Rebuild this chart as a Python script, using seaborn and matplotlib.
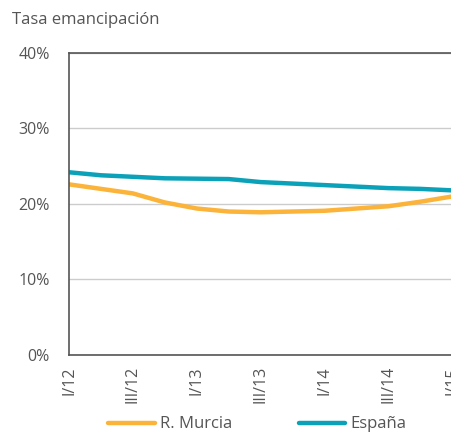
import numpy as np
import pandas as pd
import matplotlib
matplotlib.use("Agg")
import matplotlib.pyplot as plt
import seaborn as sns

sns.set_style("white")
plt.rcParams['font.family'] = ['Open Sans', 'DejaVu Sans']

trimestres = ['I/12', 'II/12', 'III/12', 'IV/12', 'I/13', 'II/13', 'III/13',
              'IV/13', 'I/14', 'II/14', 'III/14', 'IV/14', 'I/15']
murcia = [22.6, 22.0, 21.4, 20.2, 19.4, 19.0, 18.9, 19.0, 19.1, 19.4, 19.7, 20.3, 21.0]
espana = [24.2, 23.8, 23.6, 23.4, 23.35, 23.3, 22.9, 22.7, 22.5, 22.3, 22.1, 22.0, 21.8]

df = pd.DataFrame({'idx': np.arange(len(trimestres)), 'R. Murcia': murcia, 'España': espana})
df_long = df.melt(id_vars='idx', var_name='serie', value_name='tasa')

col_gris = '#555555'
fig = plt.figure(figsize=(4.51, 4.34), dpi=100)
ax = fig.add_axes([0.153, 0.182, 0.85, 0.696])

sns.lineplot(data=df_long, x='idx', y='tasa', hue='serie',
             palette={'R. Murcia': '#FBB33A', 'España': '#0BA1B8'},
             linewidth=3.2, ax=ax, legend=False)

ax.set_ylim(0, 40)
ax.set_xlim(0, 12)
ax.set_yticks([0, 10, 20, 30, 40])
ax.set_yticklabels(['0%', '10%', '20%', '30%', '40%'])
ax.set_xticks(np.arange(0, 13, 2))
ax.set_xticklabels(trimestres[::2], rotation=90)
ax.set_xticks(np.arange(1, 13, 2), minor=True)
ax.yaxis.grid(True, color='#cccccc', linewidth=1)
ax.set_axisbelow(True)
ax.set_xlabel('')
ax.set_ylabel('')

for s in ['left', 'top', 'bottom']:
    ax.spines[s].set_color(col_gris)
    ax.spines[s].set_linewidth(1.2)
ax.spines['right'].set_visible(False)

ax.tick_params(axis='both', which='both', direction='out', length=5, width=1,
               color=col_gris, labelcolor=col_gris, labelsize=11.5)
ax.tick_params(axis='y', pad=9)
ax.tick_params(axis='x', pad=3)

fig.text(0.027, 0.955, 'Tasa emancipación', fontsize=12, color=col_gris, va='center')

handles = [plt.Line2D([], [], color='#FBB33A', linewidth=3.2),
           plt.Line2D([], [], color='#0BA1B8', linewidth=3.2)]
fig.legend(handles, ['R. Murcia', 'España'], loc='center', bbox_to_anchor=(0.57, 0.022),
           ncol=2, frameon=False, fontsize=12, labelcolor=col_gris,
           handlelength=2.8, handletextpad=0.3, columnspacing=4)

plt.savefig('out.png', dpi=100)
